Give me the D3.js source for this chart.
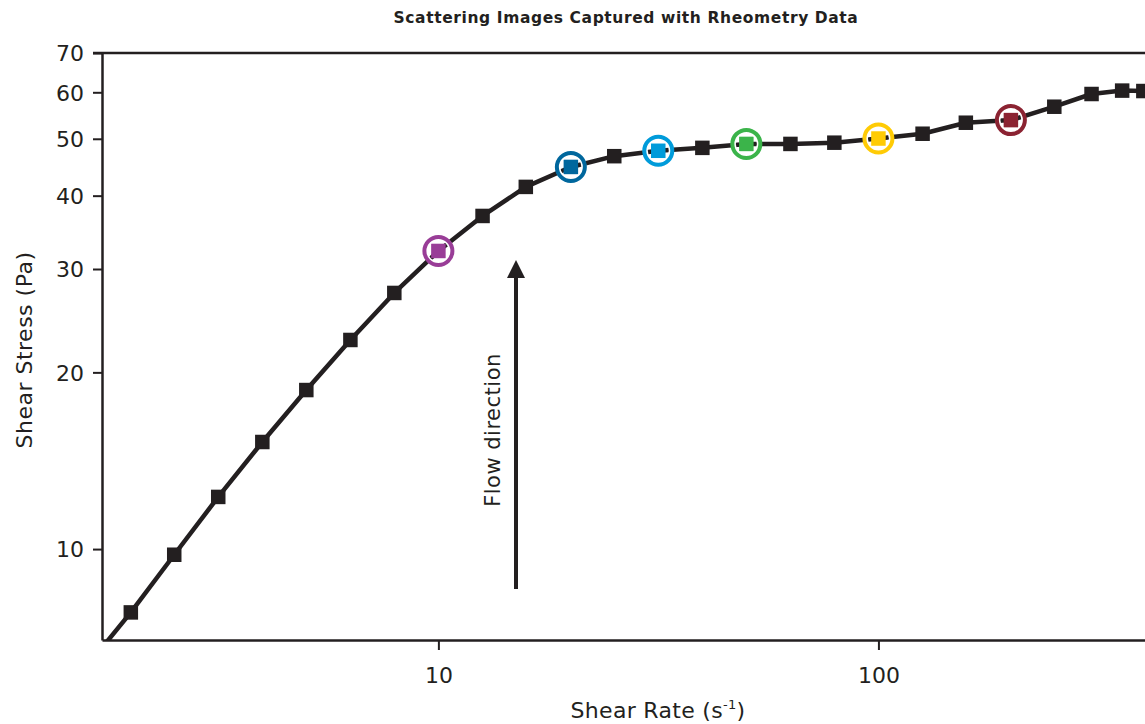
<!DOCTYPE html>
<html>
<head>
<meta charset="utf-8">
<script src="https://cdn.jsdelivr.net/npm/d3@7"></script>
<style>
  html, body { margin: 0; padding: 0; background: #fff; overflow: hidden; }
  svg { display: block; }
  text { fill: #231f20; font-family: 'DejaVu Sans', sans-serif; }
</style>
</head>
<body>
<div id="chart"></div>
<script>
// shear rate (1/s) and shear stress (Pa)
var shearRate = [1.585, 2.0, 2.51, 3.16, 3.98, 5.01, 6.31, 7.94, 10, 12.6, 15.8, 20, 25.1, 31.6,
                 39.8, 50.1, 63.1, 79.4, 100, 126, 158, 200, 251, 305, 358, 400];
var shearStress = [6.3, 7.8, 9.78, 12.27, 15.22, 18.66, 22.71, 27.31, 32.2, 36.94, 41.4, 44.77, 46.7, 47.7,
                   48.25, 49.0, 49.0, 49.24, 50.05, 51.0, 53.25, 53.8, 56.7, 59.6, 60.4, 60.3];

// points where scattering images were captured
var imageRates = [10, 20, 31.6, 50.1, 100, 200];
var imageColors = ["#993d97", "#00679d", "#009bda", "#3bb44a", "#ffcb05", "#8b2332"];

var xTicks = [10, 100];
var yTicks = [10, 20, 30, 40, 50, 60, 70];

(function(){
  var W = 1145, H = 724;
  var m = {left: 102, top: 53, bottom: 640, right: 1186};
  var ink = "#231f20";

  var x = d3.scaleLog().domain([1.72, 500]).range([m.left, m.right]);
  var y = d3.scaleLog().domain([7, 70]).range([m.bottom, m.top]);

  var svg = d3.select("#chart").append("svg")
      .attr("width", W)
      .attr("height", H);

  var defs = svg.append("defs");
  defs.append("clipPath").attr("id", "plotclip")
    .append("rect")
      .attr("x", m.left).attr("y", m.top)
      .attr("width", m.right - m.left).attr("height", m.bottom - m.top);

  // title
  svg.append("text")
      .attr("x", 626).attr("y", 23)
      .attr("text-anchor", "middle")
      .style("font-weight", "bold")
      .style("font-size", "15.5px")
      .style("letter-spacing", "0.6px")
      .text("Scattering Images Captured with Rheometry Data");

  // axes
  var xAxis = svg.append("g")
      .attr("transform", "translate(0," + m.bottom + ")")
      .call(d3.axisBottom(x).tickValues(xTicks).tickFormat(d3.format("d")).tickSize(10).tickSizeOuter(0));
  var yAxis = svg.append("g")
      .attr("transform", "translate(" + m.left + ",0)")
      .call(d3.axisLeft(y).tickValues(yTicks).tickFormat(d3.format("d")).tickSize(9).tickSizeOuter(0));

  [xAxis, yAxis].forEach(function(a){
    a.select(".domain").attr("stroke", ink).attr("stroke-width", 2.5);
    a.selectAll(".tick line").attr("stroke", ink).attr("stroke-width", 2);
    a.selectAll(".tick text")
      .style("font-family", "'DejaVu Sans', sans-serif")
      .style("font-size", "22px")
      .attr("fill", ink);
  });
  xAxis.selectAll(".tick text").attr("dy", null).attr("y", 43);
  yAxis.selectAll(".tick text").attr("dy", "0.36em").attr("x", -18);

  // top frame line
  svg.append("line")
      .attr("x1", m.left - 9).attr("x2", m.right)
      .attr("y1", m.top).attr("y2", m.top)
      .attr("stroke", ink).attr("stroke-width", 2.5);

  // axis titles
  var xl = svg.append("text")
      .attr("x", 658).attr("y", 718)
      .attr("text-anchor", "middle")
      .style("font-size", "22px")
      .style("letter-spacing", "0.3px");
  xl.append("tspan").text("Shear Rate (s");
  xl.append("tspan").attr("dy", -9).style("font-size", "13px").text("-1");
  xl.append("tspan").attr("dy", 9).text(")");

  svg.append("text")
      .attr("transform", "translate(32,350) rotate(-90)")
      .attr("text-anchor", "middle")
      .style("font-size", "22px")
      .style("letter-spacing", "0.5px")
      .text("Shear Stress (Pa)");

  // flow direction arrow
  defs.append("marker")
      .attr("id", "arrowhead")
      .attr("viewBox", "0 0 10 10")
      .attr("refX", 0).attr("refY", 5)
      .attr("markerUnits", "userSpaceOnUse")
      .attr("markerWidth", 19).attr("markerHeight", 18)
      .attr("orient", "auto")
    .append("path")
      .attr("d", "M0,0 L10,5 L0,10 Z")
      .attr("fill", ink);

  svg.append("line")
      .attr("x1", 516).attr("x2", 516)
      .attr("y1", 589).attr("y2", 278)
      .attr("stroke", ink).attr("stroke-width", 4)
      .attr("marker-end", "url(#arrowhead)");

  svg.append("text")
      .attr("transform", "translate(500,430) rotate(-90)")
      .attr("text-anchor", "middle")
      .style("font-size", "21px")
      .style("letter-spacing", "0.5px")
      .text("Flow direction");

  // data
  var data = shearRate.map(function(r, i){ return {rate: r, stress: shearStress[i]}; });

  var plot = svg.append("g").attr("clip-path", "url(#plotclip)");

  var line = d3.line()
      .x(function(d){ return x(d.rate); })
      .y(function(d){ return y(d.stress); });

  plot.append("path")
      .datum(data)
      .attr("d", line)
      .attr("fill", "none")
      .attr("stroke", ink)
      .attr("stroke-width", 4.5)
      .attr("stroke-linejoin", "round");

  function colorOf(d) {
    var k = imageRates.indexOf(d.rate);
    return k < 0 ? null : imageColors[k];
  }

  var s = 14.5;
  plot.selectAll(".dot")
      .data(data)
    .enter().append("rect")
      .attr("class", "dot")
      .attr("x", function(d){ return x(d.rate) - s / 2; })
      .attr("y", function(d){ return y(d.stress) - s / 2; })
      .attr("width", s).attr("height", s)
      .attr("fill", function(d){ return colorOf(d) || ink; });

  var picked = data.filter(function(d){ return colorOf(d); });

  // white halo then coloured ring
  plot.selectAll(".halo")
      .data(picked)
    .enter().append("circle")
      .attr("class", "halo")
      .attr("cx", function(d){ return x(d.rate); })
      .attr("cy", function(d){ return y(d.stress); })
      .attr("r", 13)
      .attr("fill", "none")
      .attr("stroke", "#fff")
      .attr("stroke-width", 5);

  plot.selectAll(".ring")
      .data(picked)
    .enter().append("circle")
      .attr("class", "ring")
      .attr("cx", function(d){ return x(d.rate); })
      .attr("cy", function(d){ return y(d.stress); })
      .attr("r", 14)
      .attr("fill", "none")
      .attr("stroke", colorOf)
      .attr("stroke-width", 4);
})();
</script>
</body>
</html>
